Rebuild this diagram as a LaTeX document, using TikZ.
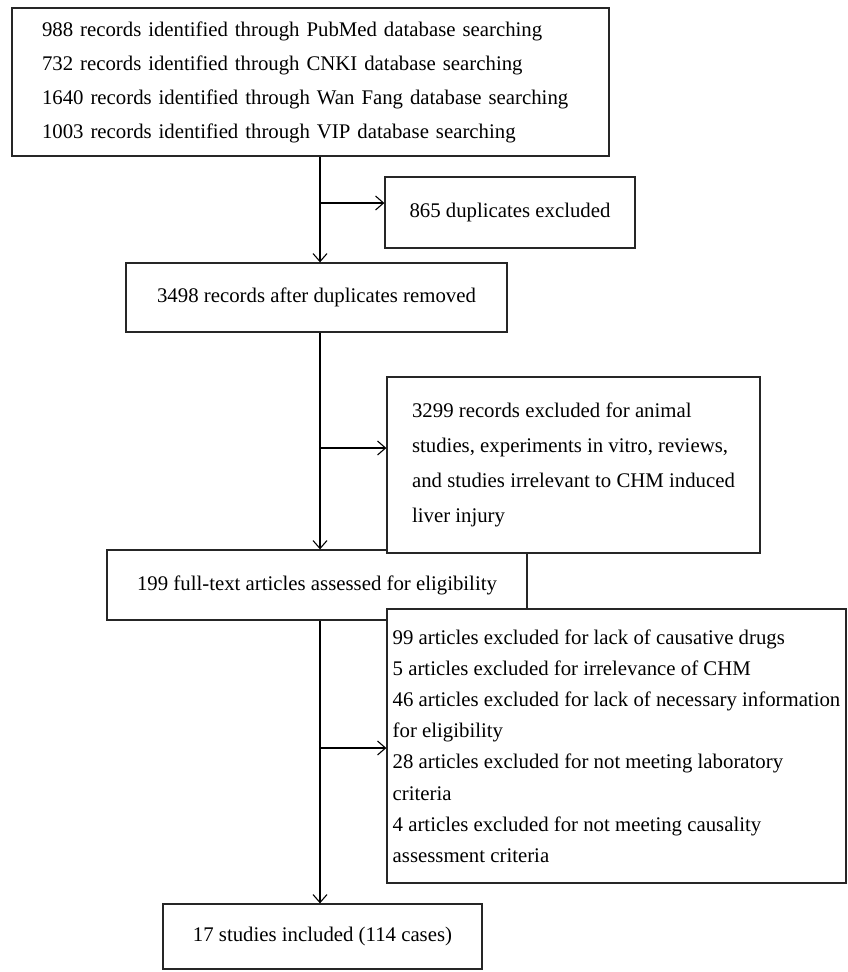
\documentclass[tikz,border=0pt]{standalone}
\usepackage{fontspec}
\setmainfont{Liberation Serif}
\usetikzlibrary{arrows.meta}
\tikzset{
  boxnode/.style={draw=black!85, line width=1.3pt, fill=white, inner sep=0pt, font=\fontsize{20.8}{31.2}\selectfont},
  arr/.style={draw=black, line width=1.1pt, -{Straight Barb[length=8pt,width=14pt,line width=1.1pt]}},
}
\begin{document}
\begin{tikzpicture}[x=1pt,y=-1pt]
\useasboundingbox (0,0) rectangle (847,972);
% connector column
\coordinate (vx) at (320,0);
\coordinate (j1) at (320,203);
\coordinate (j2) at (320,448);
\coordinate (j3) at (320,748);
% boxes
\node[boxnode, minimum height=148pt, inner xsep=30pt, text width=537pt, align=left,
      font=\fontsize{20.8}{34}\selectfont] (b1) at (310.5,82)
  {988 records identified through PubMed database searching\\
   732 records identified through CNKI database searching\\
   1640 records identified through Wan Fang database searching\\
   1003 records identified through VIP database searching};
\node[boxnode, minimum width=250pt, minimum height=71pt] (b2) at (510,212.5) {865 duplicates excluded};
\node[boxnode, minimum width=381pt, minimum height=69pt] (b3) at (316.5,297.5) {3498 records after duplicates removed};
\node[boxnode, minimum width=420pt, minimum height=70pt] (b5) at (317,585) {199 full-text articles assessed for eligibility};
\node[boxnode, minimum width=373pt, minimum height=176pt, align=left,
      font=\fontsize{20.8}{35}\selectfont] (b4) at (573.5,465)
  {3299 records excluded for animal\\
   studies, experiments in vitro, reviews,\\
   and studies irrelevant to CHM induced\\
   liver injury};
\node[boxnode, minimum width=459pt, minimum height=274pt, align=left] (b6) at (616.5,746)
  {99 articles excluded for lack of causative drugs\\
   5 articles excluded for irrelevance of CHM\\
   46 articles excluded for lack of necessary information\\
   for eligibility\\
   28 articles excluded for not meeting laboratory\\
   criteria\\
   4 articles excluded for not meeting causality\\
   assessment criteria};
\node[boxnode, minimum width=319pt, minimum height=65pt] (b7) at (322.5,936.5) {17 studies included (114 cases)};
% connectors
\draw[arr] (b1.south -| vx) -- (b3.north -| vx);
\draw[arr] (j1) -- (j1 -| b2.west);
\draw[arr] (b3.south -| vx) -- (b5.north -| vx);
\draw[arr] (j2) -- (j2 -| b4.west);
\draw[arr] (b5.south -| vx) -- (b7.north -| vx);
\draw[arr] (j3) -- (j3 -| b6.west);
\end{tikzpicture}
\end{document}
